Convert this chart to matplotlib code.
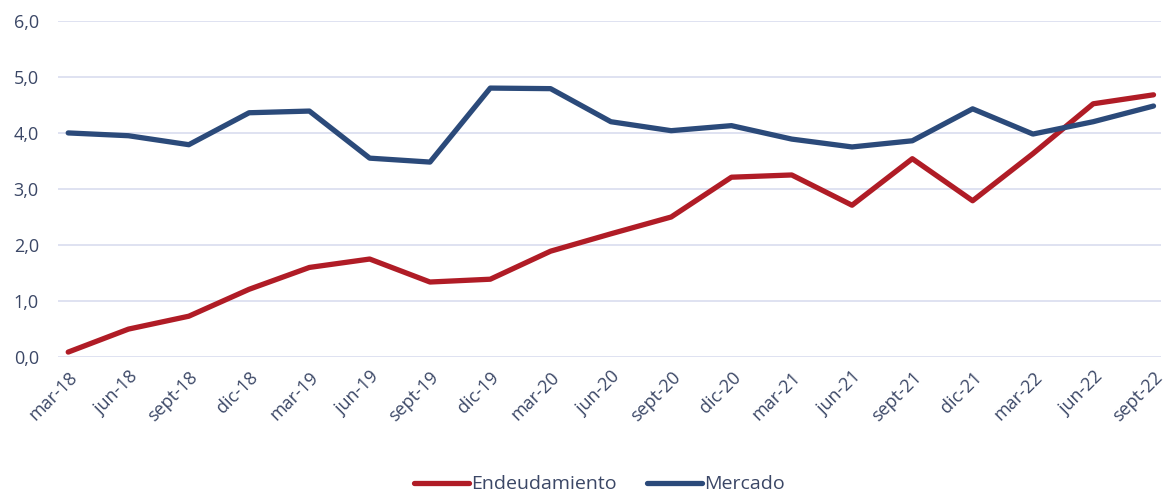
import matplotlib.pyplot as plt

labels = ["mar-18", "jun-18", "sept-18", "dic-18", "mar-19", "jun-19", "sept-19",
          "dic-19", "mar-20", "jun-20", "sept-20", "dic-20", "mar-21", "jun-21",
          "sept-21", "dic-21", "mar-22", "jun-22", "sept-22"]
endeudamiento = [0.09, 0.50, 0.73, 1.21, 1.60, 1.75, 1.34, 1.39, 1.89, 2.20,
                 2.50, 3.21, 3.25, 2.71, 3.54, 2.79, 3.63, 4.52, 4.68]
mercado = [4.00, 3.95, 3.79, 4.36, 4.39, 3.55, 3.48, 4.80, 4.79, 4.20,
           4.04, 4.13, 3.89, 3.75, 3.86, 4.43, 3.98, 4.20, 4.48]

text_color = "#3b4766"
plt.rcParams["font.family"] = ["Open Sans", "DejaVu Sans"]

fig = plt.figure(figsize=(11.64, 4.96), dpi=100)
ax = fig.add_axes([0.05, 0.28, 0.947, 0.678])

x = range(len(labels))
ax.plot(x, endeudamiento, color="#b01c26", lw=3.8, solid_capstyle="round",
        solid_joinstyle="round", label="Endeudamiento")
ax.plot(x, mercado, color="#2b4a7a", lw=3.8, solid_capstyle="round",
        solid_joinstyle="round", label="Mercado")

ax.set_ylim(0, 6)
ax.set_xlim(-0.166, 18.116)
ax.set_yticks(range(7))
ax.set_yticklabels([f"{v},0" for v in range(7)])
ax.set_xticks(list(x))
ax.set_xticklabels(labels, rotation=45, ha="right", rotation_mode="anchor")
ax.tick_params(axis="both", length=0, labelsize=13, colors=text_color)
ax.tick_params(axis="x", pad=8)
ax.tick_params(axis="y", pad=14)
ax.grid(axis="y", color="#dcdff0", lw=1.3)
ax.set_axisbelow(True)
for s in ax.spines.values():
    s.set_visible(False)

leg = fig.legend(loc="lower center", bbox_to_anchor=(0.515, -0.03), ncol=2,
                 frameon=False, fontsize=14, handlelength=2.8, handletextpad=0.1,
                 columnspacing=1.6)
for t in leg.get_texts():
    t.set_color(text_color)

fig.savefig("out.png", dpi=100)
